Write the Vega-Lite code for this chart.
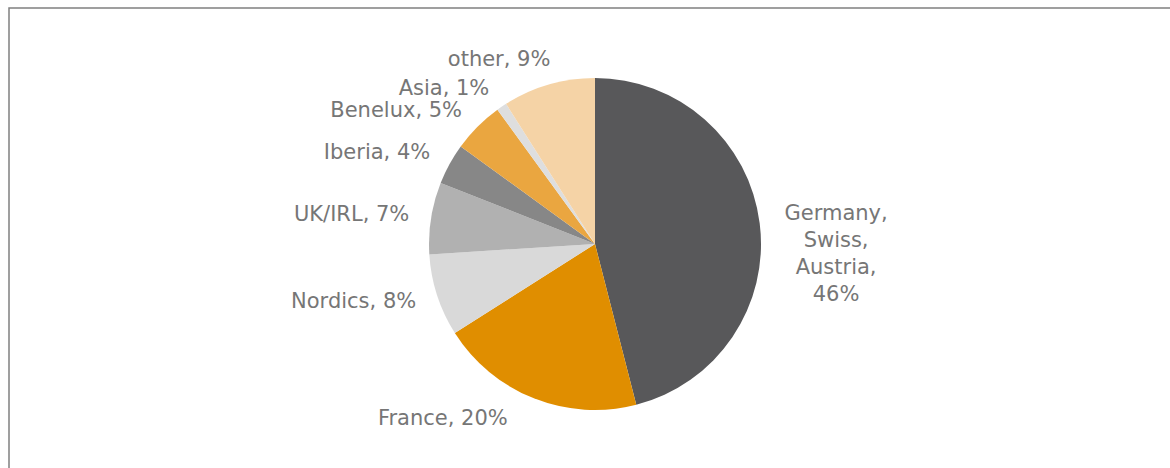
{
  "$schema": "https://vega.github.io/schema/vega-lite/v6.json",
  "width": 1172,
  "height": 472,
  "autosize": {"type": "none"},
  "padding": {"left": 9, "top": 8, "right": 0, "bottom": 0},
  "background": "white",
  "view": {"stroke": "#808080", "strokeWidth": 1.5},
  "data": {
    "values": [
      {"idx": 1, "region": "Germany, Swiss, Austria", "share": 46, "label": "Germany,\nSwiss,\nAustria,\n46%"},
      {"idx": 2, "region": "France", "share": 20, "label": "France, 20%"},
      {"idx": 3, "region": "Nordics", "share": 8, "label": "Nordics, 8%"},
      {"idx": 4, "region": "UK/IRL", "share": 7, "label": "UK/IRL, 7%"},
      {"idx": 5, "region": "Iberia", "share": 4, "label": "Iberia, 4%"},
      {"idx": 6, "region": "Benelux", "share": 5, "label": "Benelux, 5%"},
      {"idx": 7, "region": "Asia", "share": 1, "label": "Asia, 1%"},
      {"idx": 8, "region": "other", "share": 9, "label": "other, 9%"}
    ]
  },
  "encoding": {
    "theta": {"field": "share", "type": "quantitative", "stack": true},
    "order": {"field": "idx", "type": "quantitative"}
  },
  "layer": [
    {
      "mark": {"type": "arc", "outerRadius": 166},
      "encoding": {
        "color": {
          "field": "region",
          "type": "nominal",
          "scale": {
            "domain": ["Germany, Swiss, Austria", "France", "Nordics", "UK/IRL", "Iberia", "Benelux", "Asia", "other"],
            "range": ["#58585a", "#e08e00", "#d9d9d9", "#b1b1b1", "#878787", "#eaa640", "#dedede", "#f5d3a6"]
          },
          "legend": null
        }
      }
    },
    {
      "mark": {"type": "text", "radius": 188, "align": "right", "baseline": "middle", "font": "DejaVu Sans", "fontSize": 21, "color": "#767676"},
      "encoding": {
        "detail": {"field": "region"},
        "text": {"condition": {"test": "indexof(['Nordics','UK/IRL','Iberia','Benelux','Asia'], datum.region) >= 0", "field": "label"}, "value": ""}
      }
    },
    {
      "mark": {"type": "text", "radius": 188, "dx": -18, "align": "right", "baseline": "middle", "font": "DejaVu Sans", "fontSize": 21, "color": "#767676"},
      "encoding": {
        "detail": {"field": "region"},
        "text": {"condition": {"test": "datum.region === 'France'", "field": "label"}, "value": ""}
      }
    },
    {
      "mark": {"type": "text", "radius": 192, "dx": 9, "align": "right", "baseline": "middle", "font": "DejaVu Sans", "fontSize": 21, "color": "#767676"},
      "encoding": {
        "detail": {"field": "region"},
        "text": {"condition": {"test": "datum.region === 'other'", "field": "label"}, "value": ""}
      }
    },
    {
      "mark": {"type": "text", "radius": 243, "dy": 0, "align": "center", "baseline": "middle", "lineBreak": "\n", "lineHeight": 27, "font": "DejaVu Sans", "fontSize": 21, "color": "#767676"},
      "encoding": {
        "detail": {"field": "region"},
        "text": {"condition": {"test": "datum.region === 'Germany, Swiss, Austria'", "field": "label"}, "value": ""}
      }
    }
  ]
}
